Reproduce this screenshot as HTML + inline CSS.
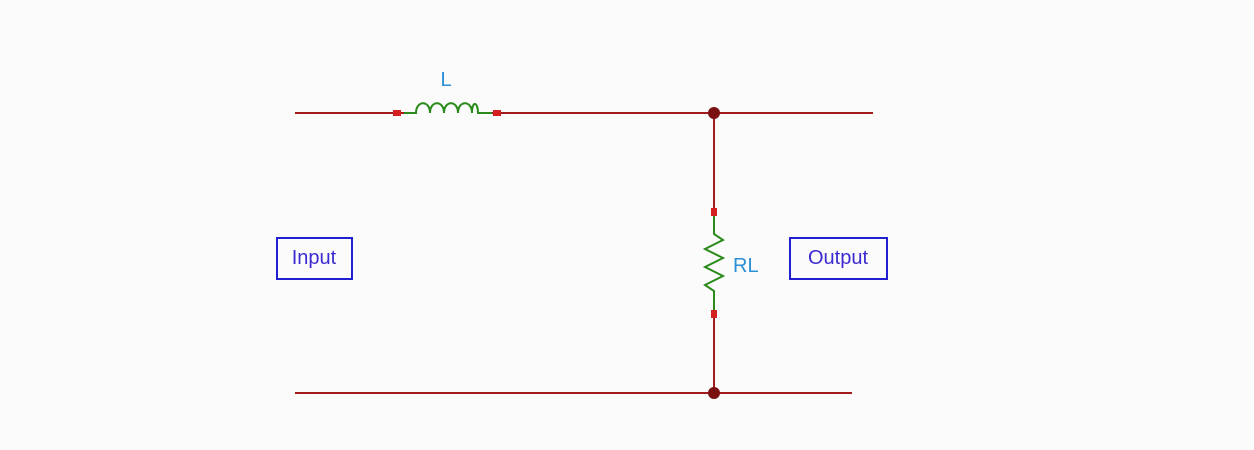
<!DOCTYPE html>
<html><head><style>
html,body{margin:0;padding:0;background:#fbfbfc;}
</style></head><body>
<svg width="1254" height="450" xmlns="http://www.w3.org/2000/svg" style="display:block">
<rect width="1254" height="450" fill="#fbfbfc"/>
<g stroke="#a31c1c" stroke-width="2" fill="none">
<line x1="295" y1="113" x2="404" y2="113"/>
<line x1="492" y1="113" x2="873" y2="113"/>
<line x1="714" y1="113" x2="714" y2="213"/>
<line x1="714" y1="313" x2="714" y2="393"/>
<line x1="295" y1="393" x2="852" y2="393"/>
</g>
<g fill="#d42020">
<rect x="393" y="110" width="8" height="6"/>
<rect x="493" y="110" width="8" height="6"/>
<rect x="711" y="208" width="6" height="8"/>
<rect x="711" y="310" width="6" height="8"/>
</g>
<circle cx="714" cy="113" r="6" fill="#7a1010"/>
<circle cx="714" cy="393" r="6" fill="#7a1010"/>
<g stroke="#2a8a1a" stroke-width="2" fill="none">
<path d="M404 113 H416 C416 100 430 100 430 113 C430 100 444 100 444 113 C444 100 458 100 458 113 C458 100 472 100 472 113 C472 100 478 102 478 113 H492"/>
<path d="M714 216 V234 L723 240 L705 249 L723 258 L705 267 L723 276 L705 285 L714 291 V310"/>
</g>
<text x="446" y="86" font-family="Liberation Sans, sans-serif" font-size="20" fill="#2a8fd4" text-anchor="middle">L</text>
<text x="733" y="272" font-family="Liberation Sans, sans-serif" font-size="20" fill="#2a8fd4">RL</text>
<rect x="277" y="238" width="75" height="41" fill="none" stroke="#2020d0" stroke-width="2"/>
<text x="314" y="264" font-family="Liberation Sans, sans-serif" font-size="20" fill="#3a2ad0" text-anchor="middle">Input</text>
<rect x="790" y="238" width="97" height="41" fill="none" stroke="#2020d0" stroke-width="2"/>
<text x="838" y="264" font-family="Liberation Sans, sans-serif" font-size="20" fill="#3a2ad0" text-anchor="middle">Output</text>
</svg>
</body></html>
